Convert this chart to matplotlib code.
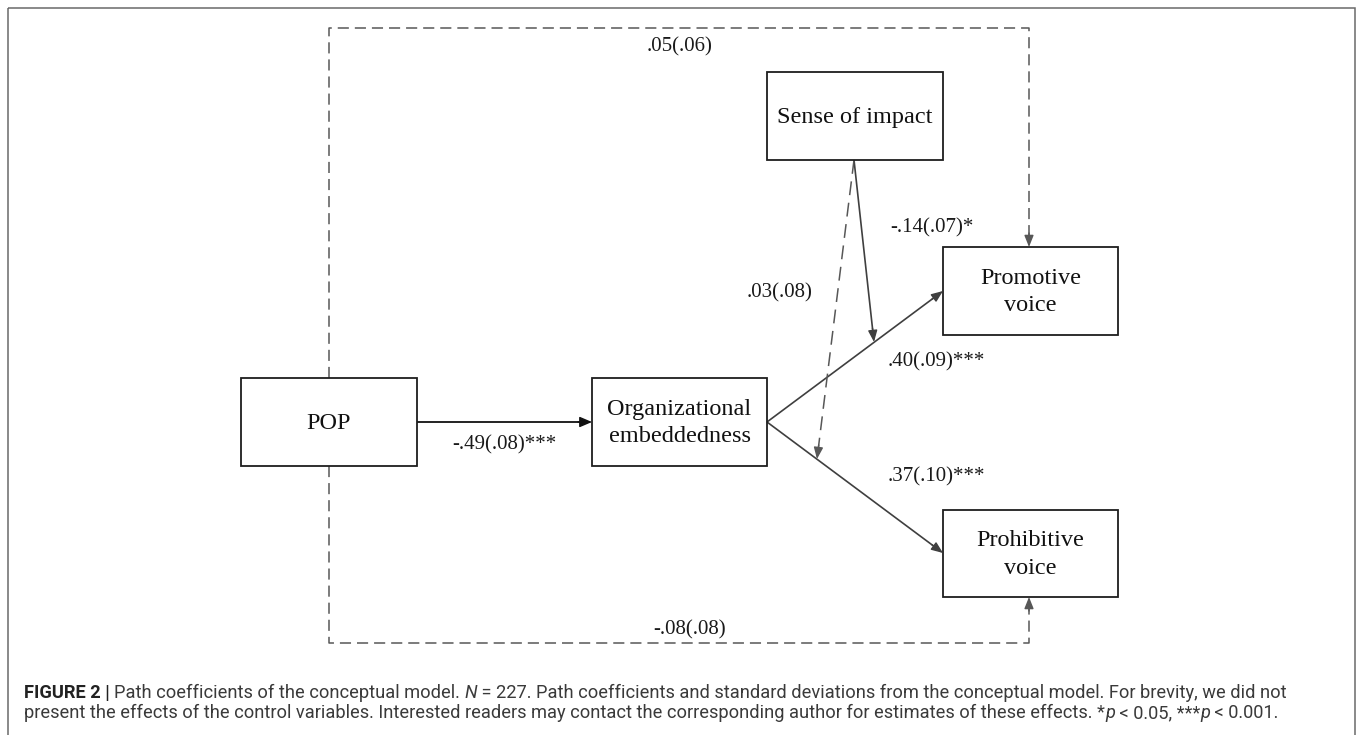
import matplotlib
matplotlib.use("Agg")
import matplotlib.pyplot as plt
from matplotlib.patches import Rectangle, FancyArrowPatch
import numpy as np

plt.rcParams["lines.scale_dashes"] = False

# ---- model content -------------------------------------------------------
node_names = ["POP", "Organizational\nembeddedness", "Sense of impact",
              "Promotive\nvoice", "Prohibitive\nvoice"]

path_names = ["POP->OE", "OE->Promotive", "OE->Prohibitive",
              "Impact x OE->Promotive", "Impact x OE->Prohibitive",
              "POP->Promotive", "POP->Prohibitive"]
path_coef = [-0.49, 0.40, 0.37, -0.14, 0.03, 0.05, -0.08]
path_se = [0.08, 0.09, 0.10, 0.07, 0.08, 0.06, 0.08]
path_stars = ["***", "***", "***", "*", "", "", ""]

caption_line1 = [("FIGURE 2 | ", "bold"),
                 ("Path coefficients of the conceptual model. ", "normal"),
                 ("N", "italic"),
                 (" = 227. Path coefficients and standard deviations from the "
                  "conceptual model. For brevity, we did not", "normal")]
caption_line2 = [("present the effects of the control variables. Interested readers "
                  "may contact the corresponding author for estimates of these "
                  "effects. *", "normal"),
                 ("p", "italic"),
                 (" < 0.05, ***", "normal"),
                 ("p", "italic"),
                 (" < 0.001.", "normal")]


def fmt(c, s, stars):
    def short(v):
        return f"{v:.2f}".replace("0.", ".", 1)
    return f"{short(c)}({short(s)}){stars}"


labels = [fmt(c, s, st) for c, s, st in zip(path_coef, path_se, path_stars)]

# ---- layout (pixel space, y downwards) -----------------------------------
W, H = 1358, 735
fig = plt.figure(figsize=(W / 100, H / 100), dpi=100)
ax = fig.add_axes([0, 0, 1, 1])
ax.set_xlim(0, W)
ax.set_ylim(H, 0)
ax.axis("off")

boxes = {
    "POP": (241, 378, 417, 466),
    "OE": (592, 378, 767, 466),
    "IMP": (767, 72, 943, 160),
    "PRO": (943, 247, 1118, 335),
    "PRH": (943, 510, 1118, 597),
}
box_keys = ["POP", "OE", "IMP", "PRO", "PRH"]

serif = ["Liberation Serif", "DejaVu Serif"]
box_color = "#1e1e1e"
line_color = "#3f3f3f"
dash_color = "#575757"

# outer frame
ax.add_patch(Rectangle((8, 8), 1347, 760, fill=False, ec="#6a6a6a", lw=1.1))

for key, name in zip(box_keys, node_names):
    x0, y0, x1, y1 = boxes[key]
    ax.add_patch(Rectangle((x0, y0), x1 - x0, y1 - y0, fill=False,
                           ec=box_color, lw=1.3, zorder=3))
    ax.text((x0 + x1) / 2, (y0 + y1) / 2 + 1, name, ha="center", va="center",
            family=serif, fontsize=17.5, color="#111111", linespacing=1.38,
            zorder=4)


def head(p_tip, p_from, color, hl=7.0, hw=2.8):
    p_tip = np.asarray(p_tip, float)
    p_from = np.asarray(p_from, float)
    u = (p_tip - p_from) / np.linalg.norm(p_tip - p_from)
    a = FancyArrowPatch(tuple(p_tip - 14 * u), tuple(p_tip),
                        arrowstyle=f"-|>,head_length={hl},head_width={hw}",
                        mutation_scale=1, color=color, lw=1.0,
                        shrinkA=0, shrinkB=0, zorder=5)
    ax.add_patch(a)
    return p_tip - 6 * u


def solid_arrow(p0, p1, color=line_color, lw=1.2, hl=7.0, hw=2.8):
    end = head(p1, p0, color, hl, hw)
    ax.plot([p0[0], end[0]], [p0[1], end[1]], color=color, lw=lw,
            solid_capstyle="butt", zorder=2)


def dashed_arrow(points, color=dash_color, lw=1.1, dashes=(8, 4.3)):
    pts = [np.asarray(p, float) for p in points]
    end = head(pts[-1], pts[-2], color)
    xs = [p[0] for p in pts[:-1]] + [end[0]]
    ys = [p[1] for p in pts[:-1]] + [end[1]]
    ax.plot(xs, ys, color=color, lw=lw, dashes=dashes, zorder=2)


oe_right = (767, 422)
# POP -> OE
solid_arrow((417, 422), (592, 422), color="#111111", lw=1.3, hl=7.5, hw=3.2)
# OE -> promotive / prohibitive
solid_arrow(oe_right, (943, 291))
solid_arrow(oe_right, (943, 553))
# moderation arrows from sense of impact
solid_arrow((854, 160), (874, 342))
dashed_arrow([(854, 160), (817, 459)], dashes=(10, 5.5))
# direct effects of POP
dashed_arrow([(329, 378), (329, 28), (1029, 28), (1029, 247)])
dashed_arrow([(329, 466), (329, 643), (1029, 643), (1029, 597)])

label_pos = [(504, 445), (936, 362), (936, 477), (932, 228),
             (780, 293), (680, 47), (690, 630)]
for (x, y), txt in zip(label_pos, labels):
    ax.text(x, y, txt, ha="center", va="center", family=serif,
            fontsize=15, color="#1a1a1a", zorder=4)

# ---- caption ---------------------------------------------------------------
sans = ["Liberation Sans Narrow", "Roboto", "Liberation Sans"]
renderer = fig.canvas.get_renderer()


def run_width(s, size, weight, style):
    t = ax.text(0, 0, "x" + s + "x", fontsize=size, family=sans,
                weight=weight, style=style)
    r = ax.text(0, 0, "xx", fontsize=size, family=sans,
                weight=weight, style=style)
    w = t.get_window_extent(renderer).width - r.get_window_extent(renderer).width
    t.remove()
    r.remove()
    return w


def run_props(kind):
    if kind == "bold":
        return "bold", "normal", "#222222"
    if kind == "italic":
        return "normal", "italic", "#3a3a3a"
    return "normal", "normal", "#3a3a3a"


def line_width(runs, size):
    return sum(run_width(s, size, *run_props(k)[:2]) for s, k in runs)


base = 13.0
target = 1281 - 24
size = base * target / line_width(caption_line1, base)


def draw_line(runs, x, y, size):
    for s, k in runs:
        weight, style, color = run_props(k)
        ax.text(x, y, s, fontsize=size, family=sans, weight=weight,
                style=style, color=color, ha="left", va="baseline")
        x += run_width(s, size, weight, style)


draw_line(caption_line1, 24, 698, size)
draw_line(caption_line2, 24, 718, size)

fig.savefig("out.png", dpi=100)
